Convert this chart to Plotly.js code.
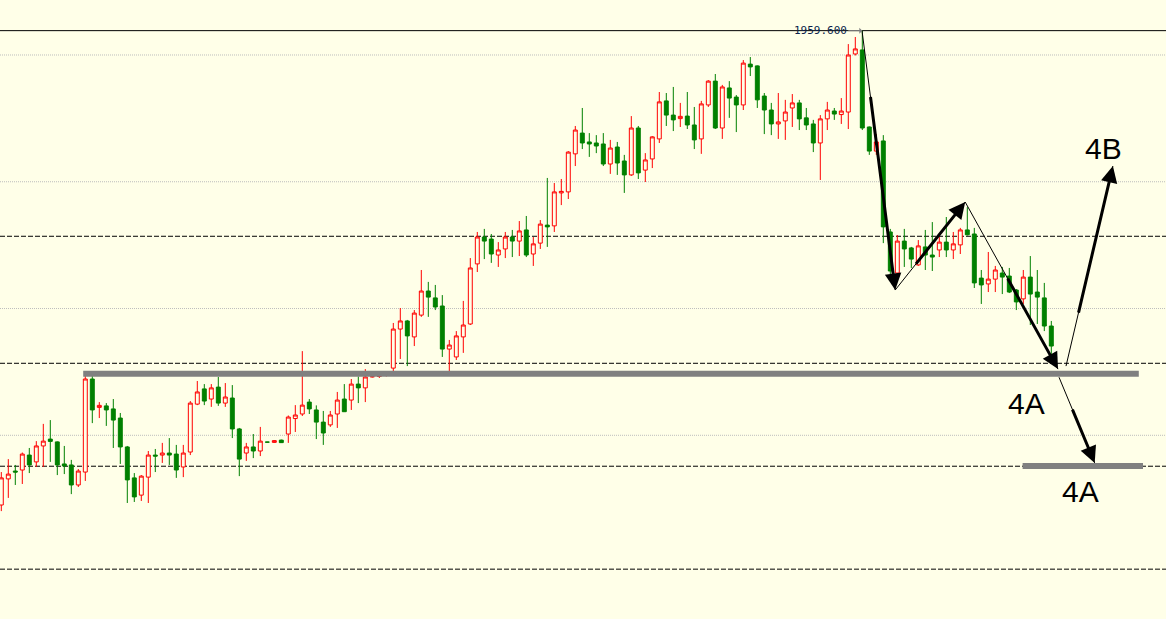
<!DOCTYPE html>
<html><head><meta charset="utf-8">
<script src="https://cdn.plot.ly/plotly-3.0.1.min.js"></script>
<style>html,body{margin:0;padding:0;background:#FFFFE8;}#chart{width:1166px;height:619px;}</style>
</head><body><div id="chart"></div>
<script>
// OHLC values (151 candles)
const openP = [1772.5,1782.8,1785.9,1786.3,1792.2,1789.5,1795.8,1798.5,1797.4,1788.7,
1788.3,1780.4,1785.5,1822.2,1811.0,1811.6,1810.4,1806.8,1795.4,1783.2,
1776.4,1783.5,1792.2,1792.2,1793.0,1792.6,1787.5,1793.4,1812.3,1818.3,
1814.3,1819.0,1812.7,1814.7,1802.5,1793.0,1795.4,1793.8,1797.3,1797.2,
1798.1,1800.5,1806.6,1808.4,1813.1,1810.0,1805.2,1804.1,1808.4,1814.3,
1813.9,1820.2,1818.7,1823.1,1823.2,1823.6,1826.5,1841.9,1845.1,1838.8,
1847.4,1856.9,1854.2,1851.0,1834.0,1830.9,1838.8,1843.9,1867.6,1878.2,
1877.4,1871.1,1873.5,1878.2,1876.6,1881.0,1871.5,1875.8,1882.9,1882.6,
1895.6,1896.0,1911.0,1919.2,1915.7,1915.3,1914.9,1907.0,1913.7,1908.2,
1902.7,1921.2,1904.6,1909.0,1916.9,1931.9,1926.3,1924.9,1925.9,1922.4,
1916.9,1930.3,1939.7,1921.2,1937.0,1933.4,1930.3,1946.4,1945.7,1933.8,
1928.3,1922.8,1924.0,1929.1,1931.1,1925.2,1922.8,1915.3,1924.8,1927.9,
1926.5,1927.5,1950.4,1952.0,1921.6,1912.1,1916.1,1880.2,1864.0,1876.6,
1873.9,1867.2,1874.3,1871.1,1873.1,1876.2,1873.1,1875.1,1881.0,1879.4,
1862.0,1859.7,1861.6,1864.0,1862.8,1857.3,1853.8,1862.4,1856.5,1854.2,
1843.1];
const highP = [1785.5,1790.6,1788.3,1793.2,1795.0,1797.7,1804.5,1806.0,1797.6,1795.8,
1790.3,1786.7,1823.4,1823.4,1813.1,1812.7,1814.3,1808.8,1795.8,1785.1,
1784.3,1793.8,1794.6,1797.0,1798.9,1796.2,1796.2,1813.5,1821.4,1820.2,
1820.2,1823.0,1820.6,1819.8,1802.9,1797.0,1800.5,1803.3,1797.4,1798.1,
1798.3,1807.8,1811.9,1833.2,1814.3,1811.8,1809.6,1809.6,1817.1,1820.2,
1822.2,1823.2,1826.1,1823.4,1823.8,1825.0,1844.3,1850.2,1845.5,1849.4,
1865.2,1860.5,1859.3,1855.3,1837.6,1841.1,1853.0,1869.9,1880.2,1881.4,
1879.4,1876.2,1880.2,1881.0,1884.5,1886.5,1878.2,1884.9,1901.5,1899.5,
1901.1,1912.1,1922.0,1929.1,1919.2,1918.4,1919.2,1916.5,1915.7,1910.6,
1925.9,1922.0,1911.3,1918.0,1935.4,1935.0,1937.4,1931.1,1935.4,1929.5,
1931.9,1940.1,1942.5,1938.2,1939.7,1934.2,1948.0,1949.2,1945.9,1935.0,
1931.1,1935.0,1932.3,1934.6,1932.3,1929.1,1924.4,1926.3,1931.5,1929.1,
1933.0,1954.3,1957.1,1959.6,1921.8,1918.8,1918.4,1881.4,1879.0,1881.4,
1874.3,1877.0,1881.0,1884.1,1878.2,1886.1,1880.2,1881.8,1890.0,1881.8,
1865.2,1872.3,1866.8,1866.4,1866.0,1857.7,1865.2,1870.7,1865.2,1860.1,
1845.1];
const lowP = [1770.1,1775.3,1780.4,1780.8,1785.1,1787.5,1787.5,1789.5,1784.3,1784.7,
1776.8,1779.6,1782.0,1804.8,1806.8,1803.7,1795.0,1788.7,1773.3,1773.7,
1774.1,1773.3,1785.5,1789.1,1788.3,1783.2,1783.5,1792.2,1811.9,1811.9,
1811.2,1811.6,1811.2,1798.9,1783.9,1789.9,1791.0,1791.8,1797.2,1797.0,
1797.0,1797.0,1801.3,1807.6,1808.4,1798.5,1796.2,1803.3,1802.9,1809.2,
1810.0,1812.7,1813.1,1822.8,1822.6,1823.2,1825.0,1830.1,1827.3,1835.2,
1846.7,1846.7,1849.4,1830.9,1825.0,1829.7,1832.5,1843.5,1864.4,1869.5,
1868.0,1866.4,1869.9,1870.3,1870.7,1870.3,1866.8,1873.5,1874.3,1880.2,
1890.8,1893.2,1906.2,1912.9,1909.8,1911.3,1906.2,1903.1,1902.7,1895.6,
1902.3,1901.1,1899.9,1905.4,1915.3,1922.0,1920.0,1921.6,1920.8,1912.9,
1911.0,1929.5,1920.8,1916.9,1925.2,1919.6,1928.3,1941.7,1929.1,1918.8,
1918.4,1916.9,1916.5,1921.6,1920.4,1920.4,1911.7,1900.7,1920.4,1924.4,
1922.8,1920.8,1949.8,1920.4,1910.6,1910.6,1875.8,1863.6,1863.6,1866.4,
1866.0,1866.8,1865.2,1864.8,1870.3,1870.3,1869.5,1871.5,1878.8,1858.1,
1851.8,1856.5,1856.5,1855.7,1856.1,1849.4,1851.8,1843.5,1843.9,1841.1,
1830.9];
const closeP = [1783.2,1784.7,1785.5,1792.6,1788.3,1795.8,1797.7,1797.6,1788.3,1787.9,
1780.4,1785.9,1822.2,1810.0,1811.8,1810.0,1806.0,1795.4,1782.4,1775.7,
1783.9,1792.2,1791.8,1793.0,1792.2,1786.3,1793.0,1812.7,1817.1,1813.5,
1818.7,1812.7,1815.1,1802.5,1790.6,1795.4,1793.8,1797.7,1797.3,1797.9,
1797.1,1807.2,1808.0,1811.9,1810.4,1805.2,1800.9,1808.0,1813.9,1809.3,
1820.2,1818.7,1823.0,1823.1,1823.2,1824.2,1841.9,1845.1,1839.2,1848.2,
1856.9,1854.5,1850.6,1834.0,1835.6,1839.2,1843.5,1866.0,1878.2,1876.6,
1871.5,1873.1,1878.2,1876.6,1880.6,1871.1,1875.5,1883.3,1882.2,1896.0,
1896.2,1911.7,1920.4,1915.3,1914.9,1914.1,1907.0,1913.3,1907.4,1902.7,
1921.2,1903.5,1908.6,1917.7,1931.5,1926.3,1924.4,1925.8,1922.4,1916.5,
1930.7,1939.7,1921.2,1937.4,1933.0,1930.3,1946.8,1945.3,1932.3,1928.3,
1922.8,1923.6,1927.5,1931.1,1924.8,1922.4,1915.3,1924.8,1928.3,1926.7,
1927.9,1950.0,1952.4,1921.2,1912.1,1915.7,1882.2,1864.8,1876.6,1873.5,
1869.5,1874.7,1871.1,1870.3,1876.2,1873.1,1875.5,1881.0,1879.1,1860.1,
1859.3,1861.6,1865.2,1862.4,1856.5,1852.6,1862.4,1855.7,1854.5,1843.1,
1835.2];

// horizontal levels
const gridLevels = [1950, 1900, 1850, 1800];
const dashedLevels = [1878.5, 1828.4, 1787.8, 1747.2];
const peakIdx = 123;
const peakPrice = 1959.6;
const peakLabel = '1959.600';

// grey zone bars (candle index from / to, price)
const zoneFrom = [11.7, 145.9];
const zoneTo = [162.5, 163.1];
const zonePrice = [1824.3, 1787.9];

// wave points (zig-zag) and projections
const waveIdx = [122.96, 127.7, 137.7, 150.96];
const wavePrice = [1959.6, 1857.3, 1892.0, 1826.1];
const projFromIdx = [152.1, 151.1];
const projFromPrice = [1827.3, 1822.9];
const projToIdx = [158.8, 156.2];
const projToPrice = [1906.2, 1789.1];

// text labels
const labelText = ['4B', '4A', '4A'];
const labelIdx = [157.4, 146.5, 154.2];
const labelPrice = [1913.3, 1812.7, 1778.0];

const BG = '#FFFFE8';
const idx = openP.map((_, i) => i);

const shapes = [];
const annotations = [];

gridLevels.forEach(p => shapes.push({type:'line', xref:'paper', x0:0, x1:1, y0:p, y1:p, layer:'below',
  line:{color:'#BDBDBD', width:1, dash:'1px,1px'}}));
dashedLevels.forEach(p => shapes.push({type:'line', xref:'paper', x0:0, x1:1, y0:p, y1:p, layer:'below',
  line:{color:'#000000', width:1, dash:'5px,2px'}}));
shapes.push({type:'line', xref:'paper', x0:0, x1:1, y0:peakPrice, y1:peakPrice, layer:'below',
  line:{color:'#000000', width:1}});

zonePrice.forEach((p, k) => shapes.push({type:'line', x0:zoneFrom[k], x1:zoneTo[k], y0:p, y1:p, layer:'above',
  line:{color:'#808080', width:6}}));

// segments: thin trend lines + thick arrows
const segs = [];
for (let k = 0; k < waveIdx.length - 1; k++) segs.push([waveIdx[k], wavePrice[k], waveIdx[k+1], wavePrice[k+1]]);
projFromIdx.forEach((v, k) => segs.push([v, projFromPrice[k], projToIdx[k], projToPrice[k]]));
const thickStart = [0.25, 0.28, 0.45, 0.26, 0.36];

segs.forEach((s, k) => {
  shapes.push({type:'line', x0:s[0], y0:s[1], x1:s[2], y1:s[3], layer:'above', line:{color:'#000000', width:1}});
  const f = thickStart[k];
  annotations.push({x:s[2], y:s[3], ax:s[0] + (s[2]-s[0])*f, ay:s[1] + (s[3]-s[1])*f,
    axref:'x', ayref:'y', xref:'x', yref:'y', text:'', showarrow:true,
    arrowhead:2, arrowsize:1.1, arrowwidth:3, arrowcolor:'#000000', standoff:0, startstandoff:0});
});

labelText.forEach((t, k) => annotations.push({x:labelIdx[k], y:labelPrice[k], text:t, showarrow:false,
  xanchor:'center', yanchor:'middle', font:{family:'Liberation Sans, Arial, sans-serif', size:30, color:'#000000'}}));

annotations.push({x:peakIdx, y:peakPrice, text:peakLabel, showarrow:true, ax:-14, ay:0,
  xanchor:'right', yanchor:'middle', arrowhead:1, arrowsize:1, arrowwidth:1, arrowcolor:'#808080',
  standoff:0, borderpad:0,
  font:{family:'DejaVu Sans Mono, monospace', size:11, color:'#0B1F4B'}});

const trace = {
  type:'candlestick', x:idx, open:openP, high:highP, low:lowP, close:closeP,
  increasing:{line:{color:'#FF0000', width:1}, fillcolor:BG},
  decreasing:{line:{color:'#008000', width:1}, fillcolor:'#008000'},
  whiskerwidth:0, hoverinfo:'skip', showlegend:false
};

const layout = {
  width:1166, height:619,
  margin:{l:0, r:0, t:0, b:0, pad:0},
  paper_bgcolor:BG, plot_bgcolor:BG,
  showlegend:false, hovermode:false,
  boxgap:0.25, boxgroupgap:0.25,
  xaxis:{range:[-0.1857, 166.386], visible:false, rangeslider:{visible:false}, fixedrange:true},
  yaxis:{range:[1727.54, 1971.69], visible:false, fixedrange:true},
  shapes:shapes, annotations:annotations
};

Plotly.newPlot('chart', [trace], layout, {displayModeBar:false, staticPlot:true});
</script></body></html>
